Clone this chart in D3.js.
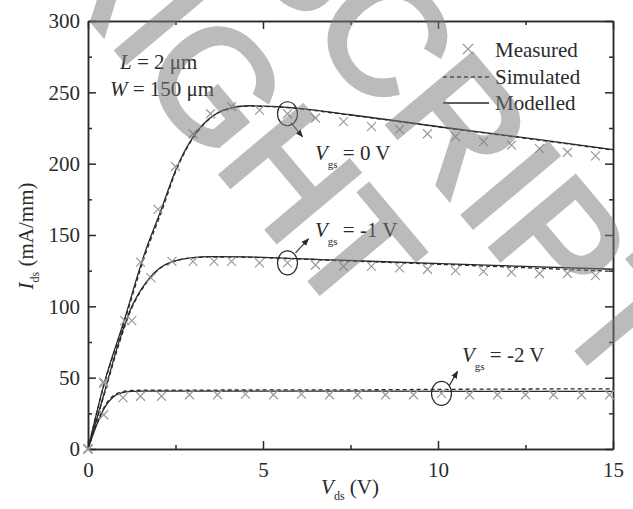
<!doctype html>
<html>
<head>
<meta charset="utf-8">
<style>
	body { margin: 0; background: #fff; }
	svg text { font-family: "Liberation Serif", "Times New Roman", serif; fill: #2a2a2a; }
</style>
</head>
<body>
<div class="chart"></div>
<script src="https://d3js.org/d3.v7.min.js"></script>
<script>
	// measured points (Vds, Ids)
	let meas0 = [[0,0],[0.45,47],[1.05,90],[1.5,131],[2.0,168],[2.5,198],[3.0,221],[3.5,235],[4.1,240],[4.9,237.5],[5.7,235],[6.5,232],[7.3,229.5],[8.1,226],[8.9,224],[9.7,221],[10.5,219],[11.3,215.5],[12.1,213],[12.9,210.5],[13.7,208],[14.5,205.5]];
	let meas1 = [[0,0],[0.45,46],[1.25,90],[1.8,120],[2.4,131.5],[3.0,131.5],[3.6,131.5],[4.1,131.5],[4.9,130.5],[5.7,130.5],[6.5,129],[7.3,128],[8.1,128],[8.9,127],[9.7,126],[10.5,125],[11.3,124.5],[12.1,124],[12.9,123],[13.7,123],[14.5,121.5]];
	let meas2 = [[0,0],[0.45,24],[1.0,36],[1.5,37],[2.1,37],[2.9,38],[3.7,38],[4.5,38.5],[5.3,38],[6.1,38.5],[6.9,38],[7.7,38],[8.5,38],[9.3,38],[10.1,39],[10.9,38],[11.7,38],[12.5,38],[13.3,38],[14.1,38],[14.9,38]];

	// modelled curves (solid)
	let mod0 = [[0,0],[0.45,45],[1.03,90],[1.63,138],[2.05,165],[2.53,197],[3.01,219],[3.49,232],[3.96,238.3],[4.6,240.6],[5.2,240.2],[5.6,239.7],[7.5,234.3],[10.3,225],[12.9,216.8],[15,209.8]];
	let mod1 = [[0,0],[0.45,38],[0.82,70],[1.2,97],[1.68,117.5],[2.06,127],[2.44,131.5],[2.94,134],[3.5,134.8],[4.5,134.6],[7,132.5],[10.3,129.7],[15,126]];
	let mod2 = [[0,0],[0.3,20],[0.5,30],[0.72,36.5],[0.95,39.3],[1.25,40.4],[1.6,40.6],[3,40.6],[8,40.5],[15,40.4]];

	// simulated curves (dashed)
	let sim0 = [[0,0],[0.46,45],[1.05,90],[1.66,138],[2.08,165],[2.55,197],[3.03,219],[3.5,232],[3.98,238.3],[4.6,240.4],[5.2,240],[5.6,239.4],[7.5,234],[10.3,224.8],[12.9,216.5],[15,209.5]];
	let sim1 = [[0,0],[0.46,38],[0.84,70],[1.22,97],[1.7,117.5],[2.08,127],[2.46,131.5],[2.96,134],[3.5,134.6],[4.5,134.4],[7,132.2],[10.3,129.2],[15,124.5]];
	let sim2 = [[0,0],[0.3,21],[0.5,31],[0.72,37.3],[0.95,40],[1.25,41],[1.6,41.2],[3,41.3],[8,41.5],[10,41.8],[15,42.2]];

	let xTicks = [0, 5, 10, 15];
	let xMinor = [2.5, 7.5, 12.5];
	let yTicks = [0, 50, 100, 150, 200, 250, 300];
	let yMinor = [25, 75, 125, 175, 225, 275];
	let legendLabels = ["Measured", "Simulated", "Modelled"];
	let gateLabels = ["0", "-1", "-2"];

	let width = 633,
		height = 509,
		mLeft = 88, mRight = 613, mTop = 21, mBottom = 449;

	let svg = d3.select(".chart").append("svg")
		.attr("width", width)
		.attr("height", height);

	let scaleX = d3.scaleLinear().domain([0, 15]).range([mLeft, mRight]);
	let scaleY = d3.scaleLinear().domain([0, 300]).range([mBottom, mTop]);

	let ink = "#2a2a2a";

	// axes on all four sides, ticks pointing inward
	function styleAxis(g) {
		g.selectAll("path, line").attr("stroke", ink).attr("stroke-width", 1.5);
		g.selectAll("text").attr("font-size", 21).attr("fill", ink)
			.attr("font-family", "Liberation Serif, serif");
	}

	svg.append("g").attr("transform", "translate(0," + mBottom + ")")
		.call(d3.axisBottom(scaleX).tickValues(xTicks).tickSize(-8).tickSizeOuter(0).tickPadding(13))
		.call(styleAxis);
	svg.append("g").attr("transform", "translate(0," + mBottom + ")")
		.call(d3.axisBottom(scaleX).tickValues(xMinor).tickSize(-4).tickSizeOuter(0).tickFormat(""))
		.call(styleAxis);
	svg.append("g").attr("transform", "translate(0," + mTop + ")")
		.call(d3.axisTop(scaleX).tickValues(xTicks).tickSize(-8).tickSizeOuter(0).tickFormat(""))
		.call(styleAxis);
	svg.append("g").attr("transform", "translate(0," + mTop + ")")
		.call(d3.axisTop(scaleX).tickValues(xMinor).tickSize(-4).tickSizeOuter(0).tickFormat(""))
		.call(styleAxis);
	svg.append("g").attr("transform", "translate(" + mLeft + ",0)")
		.call(d3.axisLeft(scaleY).tickValues(yTicks).tickSize(-8).tickSizeOuter(0).tickPadding(8))
		.call(styleAxis);
	svg.append("g").attr("transform", "translate(" + mLeft + ",0)")
		.call(d3.axisLeft(scaleY).tickValues(yMinor).tickSize(-4).tickSizeOuter(0).tickFormat(""))
		.call(styleAxis);
	svg.append("g").attr("transform", "translate(" + mRight + ",0)")
		.call(d3.axisRight(scaleY).tickValues(yTicks).tickSize(-8).tickSizeOuter(0).tickFormat(""))
		.call(styleAxis);
	svg.append("g").attr("transform", "translate(" + mRight + ",0)")
		.call(d3.axisRight(scaleY).tickValues(yMinor).tickSize(-4).tickSizeOuter(0).tickFormat(""))
		.call(styleAxis);

	// axis titles
	let xt = svg.append("text").attr("x", 350).attr("y", 494).attr("text-anchor", "middle").attr("font-size", 21);
	xt.append("tspan").attr("font-style", "italic").text("V");
	xt.append("tspan").attr("font-size", 12).attr("dy", 6).text("ds");
	xt.append("tspan").attr("dy", -6).text(" (V)");

	let yt = svg.append("text").attr("transform", "translate(33,236) rotate(-90)")
		.attr("text-anchor", "middle").attr("font-size", 21);
	yt.append("tspan").attr("font-style", "italic").text("I");
	yt.append("tspan").attr("font-size", 12).attr("dy", 6).text("ds");
	yt.append("tspan").attr("dy", -6).text(" (mA/mm)");

	// curves
	let line = d3.line().x(d => scaleX(d[0])).y(d => scaleY(d[1])).curve(d3.curveMonotoneX);

	[mod0, mod1, mod2].forEach(s => {
		svg.append("path").attr("d", line(s)).attr("fill", "none")
			.attr("stroke", ink).attr("stroke-width", 1.3);
	});
	[sim0, sim1, sim2].forEach(s => {
		svg.append("path").attr("d", line(s)).attr("fill", "none")
			.attr("stroke", ink).attr("stroke-width", 1.3).attr("stroke-dasharray", "4,3");
	});

	// measured markers
	function cross(g, x, y, r) {
		g.append("path").attr("d", "M" + (x - r) + "," + (y - r) + "L" + (x + r) + "," + (y + r) +
			"M" + (x - r) + "," + (y + r) + "L" + (x + r) + "," + (y - r))
			.attr("stroke", "#9a9a9a").attr("stroke-width", 1.2).attr("fill", "none");
	}
	let mg = svg.append("g");
	[meas0, meas1, meas2].forEach(s => {
		s.forEach(d => cross(mg, scaleX(d[0]), scaleY(d[1]), 4.5));
	});

	// text L, W
	let tl = svg.append("text").attr("x", 120).attr("y", 69).attr("font-size", 21);
	tl.append("tspan").attr("font-style", "italic").text("L");
	tl.append("tspan").text(" = 2 \u03bcm");
	let tw = svg.append("text").attr("x", 110).attr("y", 96).attr("font-size", 21);
	tw.append("tspan").attr("font-style", "italic").text("W");
	tw.append("tspan").text(" = 150 \u03bcm");

	// legend
	cross(svg, 468, 49, 5);
	svg.append("line").attr("x1", 443).attr("x2", 489).attr("y1", 77).attr("y2", 77)
		.attr("stroke", ink).attr("stroke-width", 1.3).attr("stroke-dasharray", "4,3");
	svg.append("line").attr("x1", 443).attr("x2", 489).attr("y1", 103).attr("y2", 103)
		.attr("stroke", ink).attr("stroke-width", 1.3);
	legendLabels.forEach((t, i) => {
		svg.append("text").attr("x", 495).attr("y", 57 + i * 26.5).attr("font-size", 21).text(t);
	});

	// gate voltage annotations: circle round a measured point, arrow to label
	svg.append("defs").append("marker").attr("id", "ah").attr("viewBox", "0 0 10 10")
		.attr("refX", 9).attr("refY", 5).attr("markerWidth", 7).attr("markerHeight", 7)
		.attr("orient", "auto").append("path").attr("d", "M0,1L10,5L0,9z").attr("fill", ink);

	let notes = [
		{ pt: meas0[10], dx: 3.5, dy: 9, ax: 15, ay: 23, tx: 315, ty: 160 },
		{ pt: meas1[9], dx: 8, dy: -10, ax: 21, ay: -24, tx: 315, ty: 237 },
		{ pt: meas2[14], dx: 8, dy: -8, ax: 16, ay: -22, tx: 462, ty: 362 }
	];
	notes.forEach((n, i) => {
		let cx = scaleX(n.pt[0]), cy = scaleY(n.pt[1]);
		svg.append("ellipse").attr("cx", cx).attr("cy", cy).attr("rx", 10).attr("ry", 12)
			.attr("fill", "none").attr("stroke", ink).attr("stroke-width", 1.2);
		svg.append("line").attr("x1", cx + n.dx).attr("y1", cy + n.dy)
			.attr("x2", cx + n.ax).attr("y2", cy + n.ay)
			.attr("stroke", ink).attr("stroke-width", 1.1).attr("marker-end", "url(#ah)");
		let t = svg.append("text").attr("x", n.tx).attr("y", n.ty).attr("font-size", 21);
		t.append("tspan").attr("font-style", "italic").text("V");
		t.append("tspan").attr("font-size", 11).attr("dy", 8).text("gs");
		t.append("tspan").attr("dy", -8).text(" = " + gateLabels[i] + " V");
	});

	// watermark
	let wm = svg.append("g").attr("opacity", 0.5);
	wm.append("text").attr("transform", "translate(36,-46) rotate(50)")
		.style("font-family", "Liberation Sans, Arial, sans-serif").attr("font-size", 155)
		.style("fill", "#7a7a7a").attr("stroke", "#7a7a7a").attr("stroke-width", 5)
		.text("RIGHT");
	wm.append("text").attr("transform", "translate(237,-55) rotate(50)")
		.style("font-family", "Liberation Sans, Arial, sans-serif").attr("font-size", 160)
		.style("fill", "#7a7a7a").attr("stroke", "#7a7a7a").attr("stroke-width", 5)
		.text("SCRIPT");
</script>
</body>
</html>
